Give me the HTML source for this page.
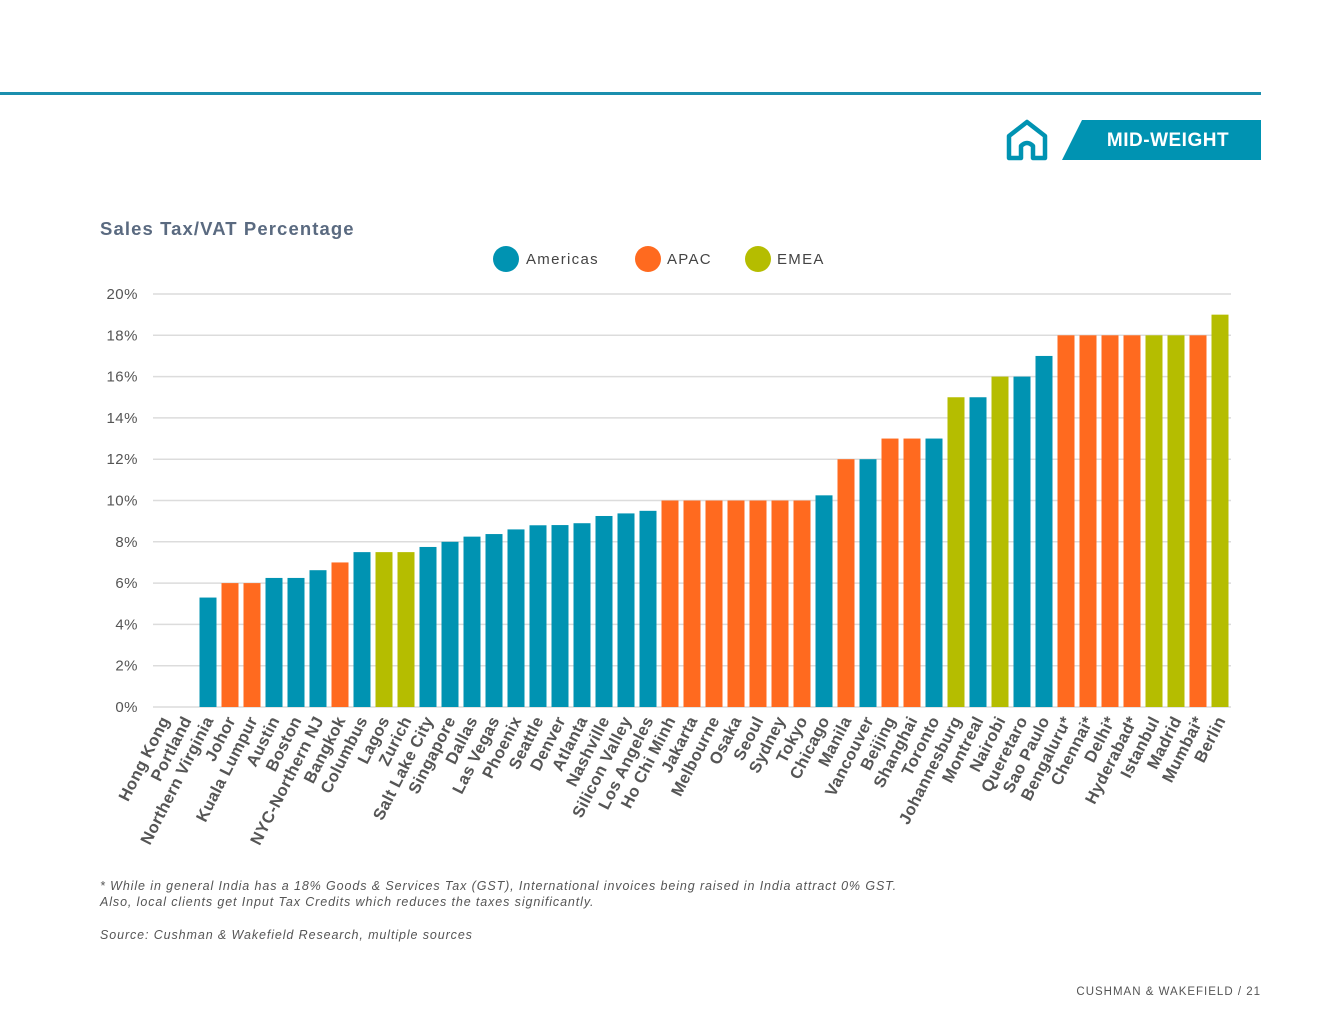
<!DOCTYPE html>
<html><head><meta charset="utf-8">
<style>
body{margin:0;background:#fff;font-family:"Liberation Sans",sans-serif;}
#wrap{position:relative;width:1320px;height:1020px;overflow:hidden;background:#fff;}
</style></head>
<body>
<div id="wrap">
<svg id="chart" width="1320" height="1020">
  <rect x="0" y="92" width="1261" height="3" fill="#1b8fae"/>
  <g fill="none" stroke="#0093b2" stroke-width="4.5" stroke-linejoin="round">
    <path d="M1009,158 V136 L1027,122 L1045,136 V158 H1033 V146 Q1027,140 1021,146 V158 Z"/>
  </g>
  <polygon points="1082,120 1261,120 1261,160 1062,160" fill="#0093b2"/>
  <text x="1168" y="146" text-anchor="middle" font-size="19" font-weight="bold" fill="#fff" letter-spacing="0.5">MID-WEIGHT</text>
  <text x="100" y="235" font-size="18.5" font-weight="bold" fill="#5a6a80" letter-spacing="1.1">Sales Tax/VAT Percentage</text>
  <g font-size="15" fill="#444" letter-spacing="1.3">
    <g><circle cx="506" cy="259" r="13" fill="#0093b2"/><text x="526" y="264">Americas</text></g>
    <g><circle cx="648" cy="259" r="13" fill="#ff6a1f"/><text x="667" y="264">APAC</text></g>
    <g><circle cx="758" cy="259" r="13" fill="#b5bd00"/><text x="777" y="264">EMEA</text></g>
  </g>
  <g id="grid"></g>
  <g id="bars"></g>
  <g id="labels"></g>
  <g font-size="12.5" font-style="italic" fill="#555" letter-spacing="0.9">
    <text x="100" y="890">* While in general India has a 18% Goods &amp; Services Tax (GST), International invoices being raised in India attract 0% GST.</text>
    <text x="100" y="906">Also, local clients get Input Tax Credits which reduces the taxes significantly.</text>
    <text x="100" y="939">Source: Cushman &amp; Wakefield Research, multiple sources</text>
  </g>
  <text x="1261" y="995" text-anchor="end" font-size="11.5" fill="#555" letter-spacing="1">CUSHMAN &amp; WAKEFIELD / 21</text>
</svg>
</div>
<script>
const categories=["Hong Kong","Portland","Northern Virginia","Johor","Kuala Lumpur","Austin","Boston","NYC-Northern NJ","Bangkok","Columbus","Lagos","Zurich","Salt Lake City","Singapore","Dallas","Las Vegas","Phoenix","Seattle","Denver","Atlanta","Nashville","Silicon Valley","Los Angeles","Ho Chi Minh","Jakarta","Melbourne","Osaka","Seoul","Sydney","Tokyo","Chicago","Manila","Vancouver","Beijing","Shanghai","Toronto","Johannesburg","Montreal","Nairobi","Queretaro","Sao Paulo","Bengaluru*","Chennai*","Delhi*","Hyderabad*","Istanbul","Madrid","Mumbai*","Berlin"];
const values=[0,0,5.3,6,6,6.25,6.25,6.625,7,7.5,7.5,7.5,7.75,8,8.25,8.375,8.6,8.8,8.81,8.9,9.25,9.375,9.5,10,10,10,10,10,10,10,10.25,12,12,13,13,13,15,15,16,16,17,18,18,18,18,18,18,18,19];
const regions=["APAC","Americas","Americas","APAC","APAC","Americas","Americas","Americas","APAC","Americas","EMEA","EMEA","Americas","Americas","Americas","Americas","Americas","Americas","Americas","Americas","Americas","Americas","Americas","APAC","APAC","APAC","APAC","APAC","APAC","APAC","Americas","APAC","Americas","APAC","APAC","Americas","EMEA","Americas","EMEA","Americas","Americas","APAC","APAC","APAC","APAC","EMEA","EMEA","APAC","EMEA"];
const yTicks=[0,2,4,6,8,10,12,14,16,18,20];
const colors={Americas:"#0093b2",APAC:"#ff6a1f",EMEA:"#b5bd00"};
const NS="http://www.w3.org/2000/svg";
const x0=153,x1=1231,yBase=707,yTop=294,yMax=20;
const step=(x1-x0)/categories.length;
function y(v){return yBase-(v/yMax)*(yBase-yTop);}
function xc(i){return x0+step*(i+0.5);}
const grid=document.getElementById('grid'),bars=document.getElementById('bars'),labels=document.getElementById('labels');
yTicks.forEach(t=>{
  const l=document.createElementNS(NS,'line');
  l.setAttribute('x1',x0);l.setAttribute('x2',x1);l.setAttribute('y1',y(t));l.setAttribute('y2',y(t));
  l.setAttribute('stroke','#dcdcdc');l.setAttribute('stroke-width','1.5');
  
  
  grid.appendChild(l);
  const tx=document.createElementNS(NS,'text');
  tx.setAttribute('x',138);tx.setAttribute('y',y(t)+5);tx.setAttribute('text-anchor','end');
  tx.setAttribute('font-size','15');tx.setAttribute('fill','#555');tx.setAttribute('letter-spacing','0.5');
  tx.textContent=t+'%';
  
  
  grid.appendChild(tx);
});
categories.forEach((c,i)=>{
  const v=values[i];
  if(v>0){
    const r=document.createElementNS(NS,'rect');
    r.setAttribute('x',xc(i)-8.5);r.setAttribute('width',17);
    r.setAttribute('y',y(v));r.setAttribute('height',yBase-y(v));
    r.setAttribute('fill',colors[regions[i]]);
    
    
    bars.appendChild(r);
  }
  const t=document.createElementNS(NS,'text');
  const lx=xc(i)+6,ly=720;
  t.setAttribute('x',lx);t.setAttribute('y',ly);t.setAttribute('text-anchor','end');
  t.setAttribute('transform','rotate(-63 '+lx+' '+ly+')');
  t.setAttribute('font-size','16.5');t.setAttribute('font-weight','bold');t.setAttribute('fill','#555');
  t.setAttribute('letter-spacing','0.4');
  t.textContent=c;
  
  
  labels.appendChild(t);
});
</script>
</body></html>
